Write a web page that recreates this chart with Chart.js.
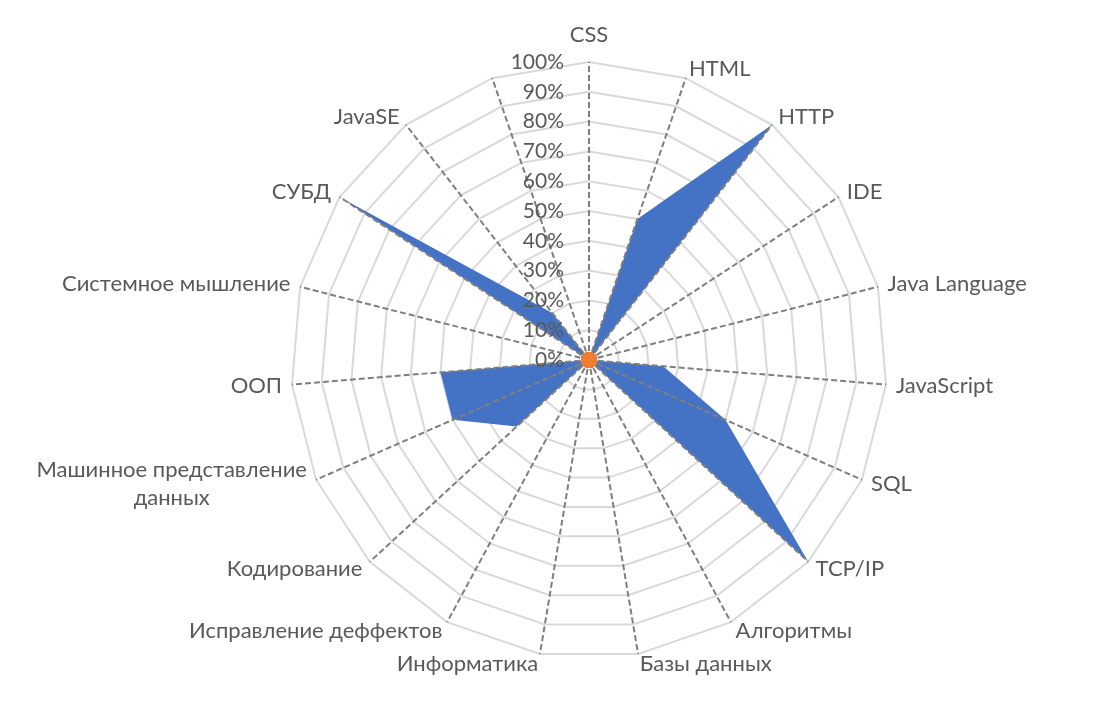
<!DOCTYPE html>
<html>
<head>
<meta charset="utf-8">
<script src="https://cdn.jsdelivr.net/npm/chart.js@4.4.1/dist/chart.umd.min.js"></script>
<style>
  html, body { margin: 0; padding: 0; background: #ffffff; }
  #wrap { width: 1109px; height: 701px; position: relative; }
</style>
</head>
<body>
<div id="wrap"><canvas id="radar"></canvas></div>
<script>
// Навыки по осям (по часовой стрелке от верха)
const CATEGORIES = [
  'CSS', 'HTML', 'HTTP', 'IDE', 'Java Language', 'JavaScript', 'SQL', 'TCP/IP',
  'Алгоритмы', 'Базы данных', 'Информатика', 'Исправление деффектов', 'Кодирование',
  ['Машинное представление', 'данных'], 'ООП', 'Системное мышление', 'СУБД', 'JavaSE', ''
];
// Уровень владения, %
const LEVELS = [0, 50, 100, 0, 0, 25, 50, 100, 0, 0, 0, 0, 33, 50, 50, 0, 100, 20, 0];
// Вторая серия — все нули (оранжевая точка в центре)
const BASELINE = [0, 0, 0, 0, 0, 0, 0, 0, 0, 0, 0, 0, 0, 0, 0, 0, 0, 0, 0];

const TICK_MIN = 0;
const TICK_MAX = 100;
const TICK_STEP = 10;

const TEXT_COLOR = '#595959';
const LABEL_FONT = { family: 'Lato', size: 22 };
const TICK_FONT = { family: 'Lato', size: 21 };
const LABEL_GAP = 10;
const LINE_H = 28;

// Пунктирные лучи и подписи шкалы рисуем поверх заливки, но под оранжевой точкой
const overlay = {
  id: 'overlay',
  afterDatasetDraw(chart, args) {
    if (args.index !== 0) return;
    const r = chart.scales.r;
    const ctx = chart.ctx;
    ctx.save();
    ctx.strokeStyle = '#7f7f7f';
    ctx.lineWidth = 2;
    ctx.setLineDash([6, 3]);
    CATEGORIES.forEach((_, i) => {
      const p = r.getPointPositionForValue(i, TICK_MAX);
      ctx.beginPath();
      ctx.moveTo(r.xCenter, r.yCenter);
      ctx.lineTo(p.x, p.y);
      ctx.stroke();
    });
    ctx.setLineDash([]);
    ctx.fillStyle = TEXT_COLOR;
    ctx.font = TICK_FONT.size + 'px ' + TICK_FONT.family;
    ctx.textAlign = 'right';
    ctx.textBaseline = 'middle';
    r.ticks.forEach(t => {
      const y = r.yCenter - r.getDistanceFromCenterForValue(t.value);
      ctx.fillText(t.value + '%', r.xCenter - 25, y);
    });
    ctx.restore();
  },
  afterDraw(chart) {
    // подписи категорий в стиле Excel: по вертикали — по центру конца луча
    const r = chart.scales.r;
    const ctx = chart.ctx;
    ctx.save();
    ctx.fillStyle = TEXT_COLOR;
    ctx.font = LABEL_FONT.size + 'px ' + LABEL_FONT.family;
    ctx.textBaseline = 'middle';
    CATEGORIES.forEach((lbl, i) => {
      const p = r.getPointPosition(i, r.drawingArea + LABEL_GAP);
      const deg = Math.round(i * 360 / CATEGORIES.length);
      const lines = Array.isArray(lbl) ? lbl : [lbl];
      let align = deg === 0 || deg === 180 ? 'center' : (deg < 180 ? 'left' : 'right');
      let cy = p.y;
      if (deg === 0) cy -= 17;
      let x = p.x;
      if (lines.length > 1) {
        // многострочная подпись — строки по центру блока
        const w = Math.max(...lines.map(l => ctx.measureText(l).width));
        x = align === 'right' ? p.x - w / 2 : (align === 'left' ? p.x + w / 2 : p.x);
        align = 'center';
      }
      ctx.textAlign = align;
      const top = cy - LINE_H * (lines.length - 1) / 2;
      lines.forEach((line, k) => ctx.fillText(line, x, top + LINE_H * k));
    });
    ctx.restore();
  }
};

new Chart(document.getElementById('radar'), {
  type: 'radar',
  data: {
    labels: CATEGORIES,
    datasets: [
      {
        label: 'Уровень',
        data: LEVELS,
        order: 2,
        backgroundColor: '#4472C4',
        borderWidth: 0,
        fill: true,
        pointRadius: 0
      },
      {
        label: 'База',
        data: BASELINE,
        order: 1,
        showLine: false,
        fill: false,
        pointRadius: 8,
        pointBackgroundColor: '#ED7D31',
        pointBorderWidth: 0
      }
    ]
  },
  options: {
    responsive: true,
    maintainAspectRatio: false,
    animation: false,
    layout: { padding: { top: 62, bottom: 42, left: 80, right: 11 } },
    plugins: { legend: { display: false }, tooltip: { enabled: false } },
    scales: {
      r: {
        min: TICK_MIN,
        max: TICK_MAX,
        ticks: { stepSize: TICK_STEP, display: false },
        grid: { color: '#d9d9d9', lineWidth: 2 },
        angleLines: { display: false },
        pointLabels: { display: false }
      }
    }
  },
  plugins: [overlay]
});
</script>
</body>
</html>
